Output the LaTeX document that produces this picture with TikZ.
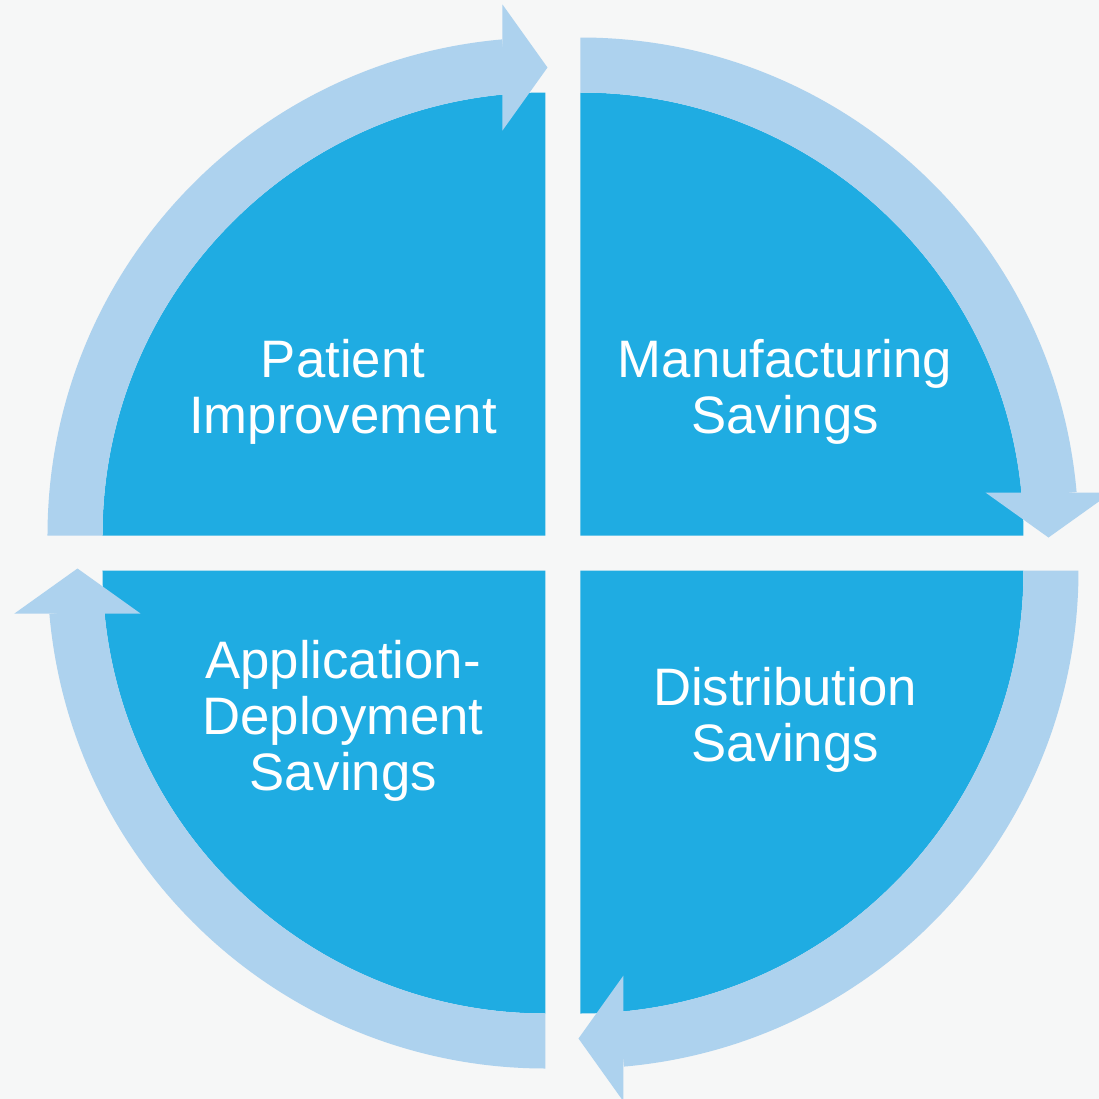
\documentclass[tikz,border=0pt]{standalone}
\usepackage{fontspec}
\setmainfont{Liberation Sans}
\usepackage{tikz}
\usepackage{xcolor}
\usetikzlibrary{positioning}
\definecolor{sectorblue}{RGB}{31, 172, 226}
\definecolor{bandblue}{RGB}{173, 210, 238}
\definecolor{paper}{RGB}{246, 247, 247}
\tikzstyle{sector} = [
    fill=sectorblue
]
\tikzstyle{band} = [
    fill=bandblue
]
\tikzstyle{quadlabel} = [
    text=white,
    align=center,
    font=\fontsize{15}{16}\selectfont
]

\begin{document}
\begin{tikzpicture}
    % page and background
    \useasboundingbox (-5.63,-5.46) rectangle (5.36,5.53);
    \fill[paper] (-5.63,-5.46) rectangle (5.36,5.53);

    % the four quarters, each with its curved arrow
    \foreach \r in {0,-90,-180,-270} {
        \begin{scope}[rotate=\r, shift={(-0.175,0.175)}]
            \fill[sector] (0,0) -- (180:4.43) arc[start angle=180, end angle=90, radius=4.43cm] -- cycle;
            \fill[band] (180:4.43) -- (180:4.98) arc[start angle=180, end angle=95, radius=4.98cm]
                -- (95:4.43) arc[start angle=95, end angle=180, radius=4.43cm] -- cycle;
            \fill[band] (-0.43,4.05) -- (0.02,4.68) -- (-0.43,5.31) -- cycle;
        \end{scope}
    }

    % texts
    \node[quadlabel] (patient) at (-2.20,1.61) {Patient\\Improvement};
    \node[quadlabel] (manufacturing) at (2.22,1.61) {Manufacturing\\Savings};
    \node[quadlabel] (deployment) at (-2.20,-1.68) {Application-\\Deployment\\Savings};
    \node[quadlabel] (distribution) at (2.22,-1.67) {Distribution\\Savings};
\end{tikzpicture}
\end{document}
